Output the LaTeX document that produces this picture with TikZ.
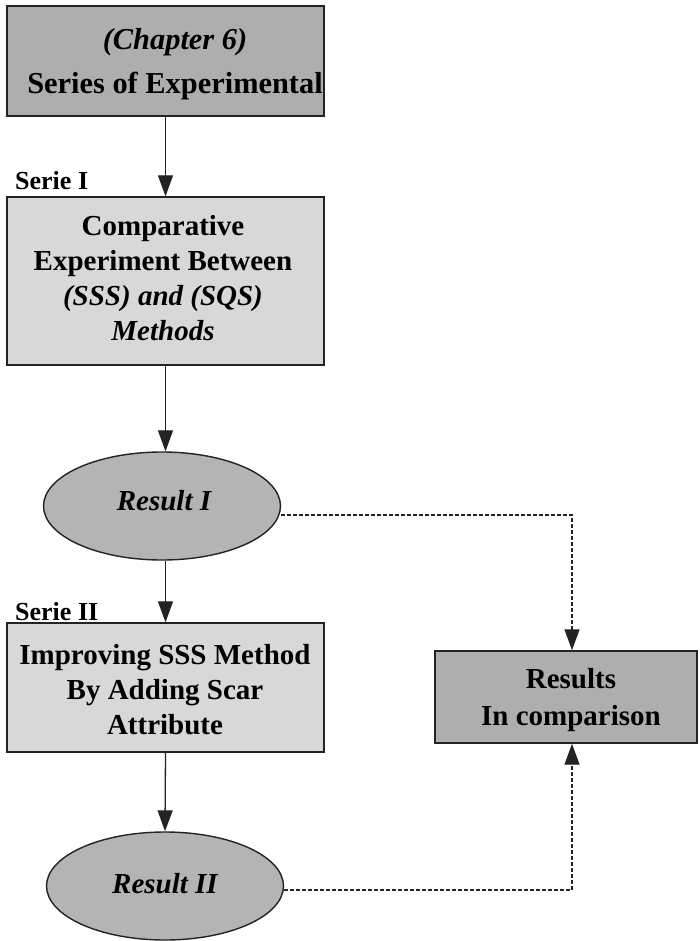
\documentclass[tikz,border=0pt]{standalone}
\usepackage{fontspec}
\setmainfont{Liberation Serif}
\usetikzlibrary{arrows.meta,shapes.geometric}

\definecolor{inkline}{RGB}{35,35,35}
\definecolor{darkfill}{RGB}{174,174,174}
\definecolor{lightfill}{RGB}{216,216,216}
\definecolor{ovalfill}{RGB}{180,180,180}

\tikzset{
  boxshape/.style={draw=inkline, line width=1.4pt, rectangle, inner sep=0pt},
  ovalshape/.style={draw=inkline, line width=1.4pt, ellipse, inner sep=0pt, fill=ovalfill,
    minimum width=237pt, minimum height=108pt},
  boxtext/.style={align=center, inner sep=0pt, text=black,
    font=\fontsize{29}{35}\selectfont\bfseries},
  headtext/.style={boxtext, font=\fontsize{30.4}{36}\selectfont\bfseries},
  serielabel/.style={anchor=base west, inner sep=0pt,
    font=\fontsize{26}{30}\selectfont\bfseries},
  flow/.style={draw=inkline, line width=1.3pt, -{Triangle[length=21pt,width=15pt]}},
  flowdash/.style={flow, dash pattern=on 4pt off 2pt}
}

\begin{document}
\begin{tikzpicture}[x=1pt, y=-1pt]
  \useasboundingbox (0,0) rectangle (699,941);

  % chapter heading box
  \node[boxshape, fill=darkfill, minimum width=317pt, minimum height=110pt] (chap) at (165.5,61) {};
  \node[headtext] (chaptxt) at (175,64)
    {\itshape (Chapter 6)\\[8pt] Series of Experimental};

  % first series
  \node[serielabel] (s1) at (15,190) {Serie I};
  \node[boxshape, fill=lightfill, minimum width=317pt, minimum height=168pt] (exp1) at (165.5,281) {};
  \node[boxtext] (exp1txt) at (163,278)
    {Comparative\\ Experiment Between\\ \itshape (SSS) and (SQS)\\ \itshape Methods};

  \node[ovalshape] (r1) at (162,506) {};
  \node[boxtext] (r1txt) at (164,501) {\itshape Result I};

  % second series
  \node[serielabel] (s2) at (15,620) {Serie II};
  \node[boxshape, fill=lightfill, minimum width=317pt, minimum height=129pt] (exp2) at (165.5,687.5) {};
  \node[boxtext] (exp2txt) at (165,690)
    {Improving SSS Method\\ By Adding Scar\\ Attribute};

  \node[ovalshape] (r2) at (165,886) {};
  \node[boxtext] (r2txt) at (165,884) {\itshape Result II};

  % comparison box
  \node[boxshape, fill=darkfill, minimum width=262pt, minimum height=92pt] (res) at (566,697) {};
  \node[boxtext] (restxt) at (571,700) {Results\\[2pt] In comparison};

  % solid flow
  \draw[flow] (chap.south) -- (exp1.north);
  \draw[flow] (exp1.south) -- (r1.north -| exp1.south);
  \draw[flow] (r1.south -| exp1.south) -- (exp2.north);
  \draw[flow] (exp2.south) -- (r2.north);

  % dashed feeds into the comparison
  \coordinate (c1) at (572,515);
  \coordinate (c2) at (572,890);
  \draw[flowdash] ([yshift=-9pt]r1.east) -- (c1) -- (c1 |- res.north);
  \draw[flowdash] ([yshift=-4pt]r2.east) -- (c2) -- (c2 |- res.south);
\end{tikzpicture}
\end{document}
